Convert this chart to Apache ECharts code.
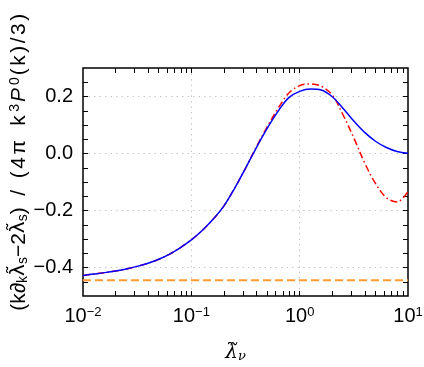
<!DOCTYPE html>
<html>
<head>
<meta charset="utf-8">
<script src="https://cdn.jsdelivr.net/npm/echarts@6/dist/echarts.min.js"></script>
<style>html,body{margin:0;padding:0;background:#fff;}#c{width:424px;height:367px;}</style>
</head>
<body>
<div id="c"></div>
<script>
// ---- data ----
var lambdaTilde = [0.01, 0.0126, 0.0158, 0.02, 0.0251, 0.0316, 0.0398, 0.0501, 0.0631, 0.0794,
  0.1, 0.126, 0.158, 0.2, 0.251, 0.316, 0.398, 0.501, 0.631, 0.794,
  1, 1.26, 1.58, 2, 2.51, 3.16, 3.98, 5.01, 6.31, 7.94, 10];
var blueVals = [-0.428, -0.423, -0.418, -0.412, -0.405, -0.396, -0.385, -0.371, -0.353, -0.330,
  -0.303, -0.270, -0.232, -0.184, -0.122, -0.052, 0.020, 0.088, 0.148, 0.196,
  0.218, 0.226, 0.223, 0.199, 0.159, 0.114, 0.074, 0.043, 0.021, 0.007, 0.001];
var redVals = [-0.428, -0.423, -0.418, -0.412, -0.405, -0.396, -0.385, -0.371, -0.353, -0.330,
  -0.303, -0.270, -0.232, -0.184, -0.122, -0.052, 0.023, 0.093, 0.158, 0.212,
  0.238, 0.244, 0.236, 0.205, 0.136, 0.055, -0.033, -0.105, -0.155, -0.170, -0.133];
var orangeX = [0.01, 10];
var orangeVals = [-0.445, -0.445];
var xMajorTicks = [0.01, 0.1, 1, 10];
var xMinorTicks = [0.02,0.03,0.04,0.05,0.06,0.07,0.08,0.09,0.1,0.2,0.3,0.4,0.5,0.6,0.7,0.8,0.9,1,2,3,4,5,6,7,8,9];
var yMajorTicks = [-0.4, -0.2, 0, 0.2];
var yMinorTicks = [-0.45,-0.4,-0.35,-0.3,-0.25,-0.2,-0.15,-0.1,-0.05,0,0.05,0.1,0.15,0.2,0.25];

function zip(xs, ys){ return xs.map(function(x,i){ return [x, ys[i]]; }); }

var FONT = 'Liberation Sans';
var LAM = 'DejaVu Sans';
var gridLine = {show:true, lineStyle:{color:'#c8c8c8', type:[1.5,4], width:1}};
var tickStyle = {show:true, inside:true, length:5, lineStyle:{color:'#000', width:1}};
var noLine = {show:false, onZero:false};

// y-axis title, built from rich-text tokens (wider letter spacing as in the reference)
var yTitle = '(k\u2202{sub|k}{lam|\u03bb\u0303}{sub|s}\u22122{lam|\u03bb\u0303}{sub|s})  /  ' +
  '{w|(}{w|4}{w|\u03c0}  {w|k}{sup|3}{itw|P}{sup|0}{w|(}{w|k}{w|)}{w|/}{w|3}{w|)}';

var chart = echarts.init(document.getElementById('c'), null, {renderer:'canvas'});
chart.setOption({
  animation:false,
  backgroundColor:'#fff',
  grid:{left:83, right:16, top:68, bottom:71, show:true, borderColor:'#000', borderWidth:1.5,
        backgroundColor:'transparent', outerBoundsMode:'none', containLabel:false},
  xAxis:[
    {type:'log', logBase:10, min:0.01, max:10, position:'bottom',
     axisLine:noLine,
     axisTick:Object.assign({customValues:xMinorTicks}, tickStyle),
     axisLabel:{customValues:xMajorTicks, margin:10, color:'#000', fontFamily:FONT, fontSize:20,
       formatter:function(v){ var e=Math.round(Math.log10(v)); return '10{sup|'+(e<0?'\u2212'+(-e):e)+'}'; },
       rich:{sup:{fontSize:13, fontFamily:FONT, color:'#000', verticalAlign:'top'}}},
     splitLine:{show:false},
     name:'{a|\u03bb\u0303}{b|\u03bd}', nameLocation:'middle', nameGap:46, nameMoveOverlap:false,
     nameTextStyle:{padding:[0,20,0,0],
                    rich:{a:{fontFamily:'DejaVu Serif', fontStyle:'italic', fontSize:20, color:'#000'},
                          b:{fontFamily:'DejaVu Serif', fontStyle:'italic', fontSize:13, color:'#000', verticalAlign:'bottom', padding:[8,0,0,0]}}}},
    {type:'log', logBase:10, min:0.01, max:10, position:'top',
     axisLine:noLine, axisTick:Object.assign({customValues:xMinorTicks}, tickStyle),
     axisLabel:{show:false}, splitLine:{show:false}},
    {type:'log', logBase:10, min:0.01, max:10, position:'bottom',
     axisLine:noLine, axisTick:{show:false, customValues:[0.1,1]},
     axisLabel:{show:false, customValues:[0.1,1]}, splitLine:gridLine}
  ],
  yAxis:[
    {type:'value', min:-0.5, max:0.3, position:'left',
     axisLine:noLine,
     axisTick:Object.assign({customValues:yMinorTicks}, tickStyle),
     axisLabel:{customValues:yMajorTicks, margin:10, color:'#000', fontFamily:FONT, fontSize:20,
       formatter:function(v){ var s=Math.abs(v).toFixed(1); return v<-1e-9 ? '\u2212'+s : s; }},
     splitLine:{show:false},
     name:yTitle,
     nameLocation:'middle', nameGap:53, nameRotate:90, nameMoveOverlap:false,
     nameTextStyle:{color:'#000', fontFamily:FONT, fontSize:21, padding:[0,0,0,42],
       rich:{sub:{fontFamily:FONT, fontSize:14, color:'#000', verticalAlign:'bottom', padding:[7,0,0,0]},
             sup:{fontFamily:FONT, fontSize:14, color:'#000', verticalAlign:'top', padding:[0,2,8,1]},
             lam:{fontFamily:LAM, fontSize:20, color:'#000'},
             w:{fontFamily:FONT, fontSize:21, color:'#000', padding:[0,2.5,0,0]},
             itw:{fontFamily:FONT, fontSize:21, fontStyle:'italic', color:'#000', padding:[0,2,0,0]}}}},
    {type:'value', min:-0.5, max:0.3, position:'right',
     axisLine:noLine, axisTick:Object.assign({customValues:yMinorTicks}, tickStyle),
     axisLabel:{show:false}, splitLine:{show:false}},
    {type:'value', min:-0.5, max:0.3, position:'left',
     axisLine:noLine, axisTick:{show:false, customValues:yMajorTicks},
     axisLabel:{show:false, customValues:yMajorTicks}, splitLine:gridLine}
  ],
  series:[
    {type:'line', data:zip(orangeX, orangeVals), showSymbol:false, symbol:'none',
     lineStyle:{color:'#ff9a33', width:2, type:[8,4]}, z:3},
    {type:'line', data:zip(lambdaTilde, redVals), showSymbol:false, symbol:'none', smooth:0.35,
     lineStyle:{color:'#ff0000', width:1.5, type:[7,3,1.5,3]}, z:4},
    {type:'line', data:zip(lambdaTilde, blueVals), showSymbol:false, symbol:'none', smooth:0.35,
     lineStyle:{color:'#0000ff', width:1.5}, z:5}
  ]
});
</script>
</body>
</html>
